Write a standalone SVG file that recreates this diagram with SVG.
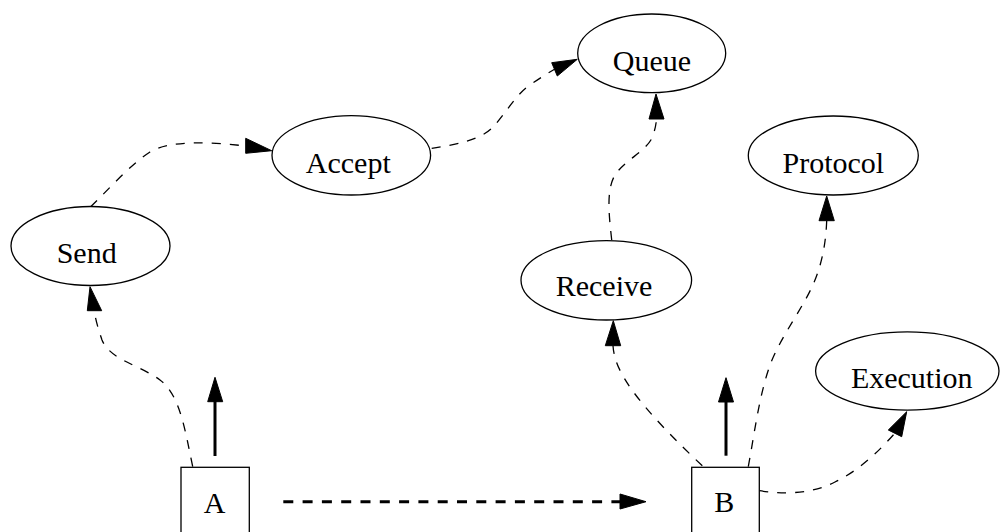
<svg xmlns="http://www.w3.org/2000/svg" width="1000" height="532" viewBox="0 0 1000 532">
<style>
.n{fill:#fff;stroke:#000;stroke-width:1.3}
.t{font-family:"Liberation Serif","Times New Roman",serif;font-size:30px;fill:#000;text-anchor:middle}
.e{fill:none;stroke:#000;stroke-width:1.3;stroke-dasharray:9,9}
.h{fill:#000;stroke:#000;stroke-width:1}
.k{fill:none;stroke:#000;stroke-width:3}
</style>
<rect width="1000" height="532" fill="#fff"/>
<g id="edges">
<path class="e" d="M192.7,466.7 C185,430 180,395 160,380 C140,365 110,360 102,340 C98,328 95,318 94.5,311"/>
<polygon class="h" points="87.3,310.7 101.7,310.7 90,286.7"/>
<path class="e" d="M90.7,206.7 C110,188 130,165 150,152 C170,140 210,142 246,146"/>
<polygon class="h" points="245.7,138.3 245.7,153.3 271.7,150.7"/>
<path class="e" d="M431.7,148.3 C455,145 480,140 492,128 C505,115 515,95 530,85 C540,78 548,73 554.5,69.3"/>
<polygon class="h" points="551.7,62.7 557.3,76 577.3,59.3"/>
<path class="e" d="M611.7,240 C609,215 606,190 615,175 C625,160 645,152 652,138 C655,130 656,125 656.5,119"/>
<polygon class="h" points="649,119 664,119 656,94"/>
<path class="e" d="M702.3,465.7 C680,445 650,415 632,390 C620,373 614,360 613,345.7"/>
<polygon class="h" points="605.3,345.7 620.7,345.7 613.3,320.7"/>
<path class="e" d="M748.3,466.7 C755,430 760,390 772,360 C785,330 805,305 815,280 C823,260 826,240 826.7,220.7"/>
<polygon class="h" points="819,220.7 834.3,220.7 826.7,196"/>
<path class="e" d="M759.3,490.7 C780,494 810,495 835,482 C860,470 880,450 895,433"/>
<polygon class="h" points="888.3,430 901.7,436.7 906.7,411.7"/>
<line class="k" x1="215" y1="456" x2="215" y2="401"/>
<polygon class="h" points="207.7,401.7 222.7,401.7 215,377.3"/>
<line class="k" x1="726" y1="455.7" x2="726" y2="401"/>
<polygon class="h" points="718.5,402 733.5,402 726,377.7"/>
<line class="k" x1="283.3" y1="501.7" x2="621" y2="501.7" stroke-dasharray="10,9.3"/>
<polygon class="h" points="620,494 620,509 646,501.7"/>
</g>
<g id="Send"><ellipse class="n" cx="90.5" cy="246" rx="79.5" ry="39.5"/><text class="t" x="86.7" y="263.3">Send</text></g>
<g id="Accept"><ellipse class="n" cx="351.3" cy="155.3" rx="79.3" ry="39.7"/><text class="t" x="348.3" y="172.7">Accept</text></g>
<g id="Queue"><ellipse class="n" cx="651.7" cy="53.3" rx="74" ry="39.3"/><text class="t" x="652" y="70.7">Queue</text></g>
<g id="Protocol"><ellipse class="n" cx="833.3" cy="155.5" rx="85" ry="39.5"/><text class="t" x="833.3" y="172.7">Protocol</text></g>
<g id="Receive"><ellipse class="n" cx="606.3" cy="280.3" rx="85.3" ry="39.7"/><text class="t" x="604" y="296">Receive</text></g>
<g id="Execution"><ellipse class="n" cx="907.3" cy="371" rx="91.7" ry="39.2"/><text class="t" x="911.7" y="388.3">Execution</text></g>
<g id="A"><rect class="n" x="181" y="467.3" width="68.3" height="80"/><text class="t" x="214.7" y="513.3">A</text></g>
<g id="B"><rect class="n" x="691.7" y="467.3" width="67.6" height="80"/><text class="t" x="724.2" y="512.3">B</text></g>
</svg>
